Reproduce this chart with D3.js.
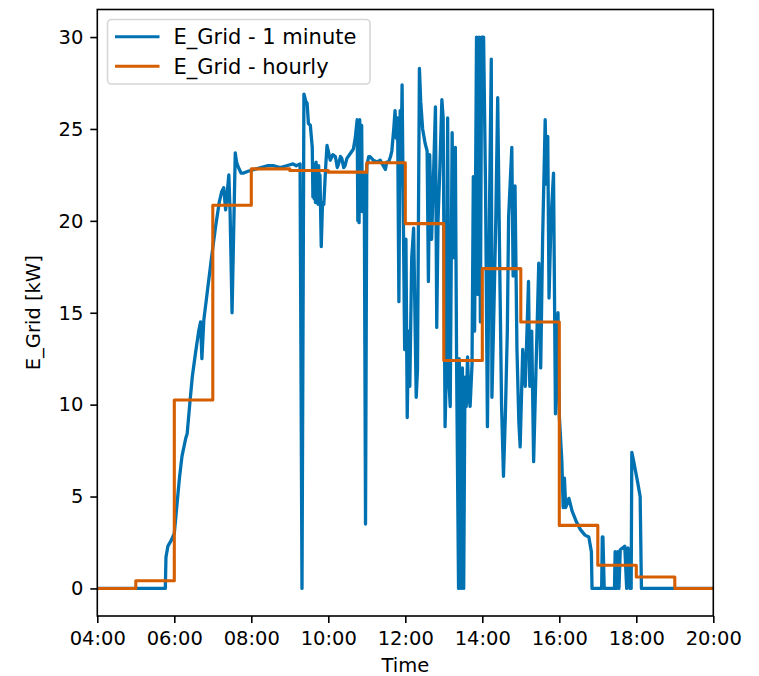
<!DOCTYPE html>
<html><head><meta charset="utf-8">
<script src="https://cdn.jsdelivr.net/npm/d3@7/dist/d3.min.js"></script>
<style>body{margin:0;background:#fff}svg{display:block}</style>
</head><body>
<svg id="chart" width="759" height="676"></svg>
<script>
const seriesNames = ["E_Grid - 1 minute", "E_Grid - hourly"];
const seriesColors = ["#0072B2", "#D55E00"];

const minuteTimes = [
"04:00","05:46","05:47","05:50","05:55","06:00","06:04","06:08","06:12","06:18","06:20","06:24","06:28","06:33","06:38","06:41","06:43","06:46","06:52","06:58",
"07:04","07:10","07:14","07:17","07:20","07:25","07:27","07:30","07:35","07:37","07:40","07:44","07:48","07:55","08:05","08:15","08:25","08:35","08:45","08:55",
"09:05","09:10","09:16","09:19","09:22","09:25","09:27","09:29","09:32","09:35","09:36","09:37","09:38","09:39","09:40","09:41","09:42","09:43","09:44","09:45","09:46","09:47",
"09:49","09:51","09:53","09:56","09:58","10:00","10:03","10:07","10:11","10:14","10:16","10:19","10:21","10:24","10:26","10:29","10:33","10:37","10:39","10:42",
"10:45","10:46","10:47","10:48","10:49","10:50","10:51","10:52","10:53","10:54","10:56","10:58","11:00","11:03","11:05","11:10","11:16","11:21","11:24","11:29","11:31","11:34",
"11:37","11:39","11:42","11:44","11:46","11:48","11:50","11:52","11:53","11:55","11:57","11:59","12:01","12:03","12:05","12:07","12:10","12:13","12:15","12:17",
"12:19","12:22","12:24","12:27","12:31","12:34","12:36","12:38","12:41","12:44","12:47","12:49","12:51","12:54","12:57","12:59","13:02","13:04","13:06","13:08",
"13:10","13:13","13:15","13:18","13:20","13:23","13:24","13:26","13:27","13:29","13:31","13:33","13:35","13:37","13:39","13:41","13:44","13:46","13:48","13:51",
"13:53","13:55","13:57","13:59","14:02","14:05","14:08","14:11","14:14","14:15","14:18","14:21","14:24","14:27","14:30","14:33","14:36","14:39","14:41","14:46",
"14:48","14:51","14:54","14:57","14:59","15:03","15:07","15:12","15:14","15:17","15:20","15:23","15:28","15:31","15:34","15:38","15:40","15:42","15:44","15:47",
"15:51","15:54","15:58","16:00","16:04","16:06","16:08","16:10","16:15","16:20","16:27","16:33","16:40","16:46","16:50","16:51","17:06","17:07","17:08","17:10",
"17:26","17:27","17:29","17:31","17:33","17:35","17:42","17:45","17:47","17:50","17:52","17:53","17:56","18:02","18:06","18:08","20:00"
];
const minuteValues = [
0,0,1.7,2.3,2.6,3.0,4.5,6.0,7.2,8.2,8.4,10.0,11.5,12.8,14.0,14.5,12.5,14.6,16.3,18.0,
19.6,21.0,21.6,21.8,20.6,22.5,20.4,15.0,23.7,23.2,22.9,22.6,22.6,22.7,22.8,22.9,23.0,23.0,22.9,23.0,
23.1,23.0,23.1,0,26.9,26.5,26.4,25.3,25.2,24.0,21.3,22.9,21.2,23.1,21.0,23.2,21.2,22.8,20.9,23.0,21.3,22.5,
18.6,21.0,20.9,23.0,24.1,23.8,23.3,23.6,23.5,22.9,23.1,23.5,23.4,22.9,23.0,23.4,23.6,23.8,23.9,24.5,
25.5,20.0,25.4,19.9,25.5,21.5,24.8,25.2,20.5,21.0,22.5,3.5,23.0,23.5,23.5,23.3,23.2,23.3,23.1,22.8,23.2,23.2,
23.5,23.8,25.0,26.0,24.5,25.6,15.6,26.0,22.0,27.4,20.0,13.0,19.0,9.3,14.0,11.0,18.0,19.6,15.0,10.4,
11.9,28.3,26.5,25.0,24.2,23.8,16.7,23.6,19.0,22.5,26.2,14.2,20.0,23.0,26.6,25.6,8.8,12.0,25.6,11.3,
9.9,24.8,18.0,24.0,12.0,0.0,12.5,10.5,0.0,12.0,0.0,11.5,9.9,12.6,10.5,9.9,12.2,22.4,14.0,30.0,
16.0,30.0,14.5,30.0,30.0,22.0,8.8,20.0,28.8,10.4,15.0,20.0,26.7,18.0,10.0,6.1,9.5,14.0,20.2,24.0,
17.0,21.9,13.0,9.0,7.7,13.0,11.0,16.7,11.0,14.0,6.9,11.0,17.7,12.0,19.0,25.5,22.0,24.6,15.8,20.0,
22.6,9.5,15.0,9.4,6.9,4.4,6.0,4.4,4.9,4.2,3.6,3.2,2.9,2.8,2.0,0.0,0.0,2.8,2.8,0.0,
0.0,2.0,0.0,2.0,0.0,2.1,2.3,0.0,2.2,0.0,0.0,7.4,6.9,5.8,5.0,0.0,0.0
];

const hourlyTimes = ["04:00","05:00","06:00","07:00","08:00","09:00","10:00","11:00","12:00","13:00","14:00","15:00","16:00","17:00","18:00","19:00","20:00"];
const hourlyValues = [0, 0.42, 10.25, 20.85, 22.83, 22.74, 22.65, 23.16, 19.85, 12.4, 17.4, 14.5, 3.43, 1.26, 0.62, 0, 0];

const xTickLabels = ["04:00","06:00","08:00","10:00","12:00","14:00","16:00","18:00","20:00"];
const yTickValues = [0, 5, 10, 15, 20, 25, 30];
const yDomain = [-1.5, 31.5];
const xLabel = "Time";
const yLabel = "E_Grid [kW]";

const parse = d3.timeParse("%H:%M");
const plot = {left: 97.3, right: 713.3, top: 9.5, bottom: 616};
const FONT = "DejaVu Sans, sans-serif";
const FS = 19.5;
const LFS = 21;

const svg = d3.select("#chart");
const x = d3.scaleTime().domain([parse("04:00"), parse("20:00")]).range([plot.left, plot.right]);
const y = d3.scaleLinear().domain(yDomain).range([plot.bottom, plot.top]);

svg.append("defs").append("clipPath").attr("id", "clip")
  .append("rect").attr("x", plot.left).attr("y", plot.top)
  .attr("width", plot.right - plot.left).attr("height", plot.bottom - plot.top);

const n = Math.min(minuteTimes.length, minuteValues.length);
const minuteData = minuteTimes.slice(0, n).map((t, i) => ({t: parse(t), v: minuteValues[i]}));
const hourlyData = hourlyTimes.map((t, i) => ({t: parse(t), v: hourlyValues[i]}));

const lineGen = d3.line().x(d => x(d.t)).y(d => y(d.v));
const stepGen = d3.line().x(d => x(d.t)).y(d => y(d.v)).curve(d3.curveStepAfter);

const g = svg.append("g").attr("clip-path", "url(#clip)");
g.append("path").datum(minuteData).attr("d", lineGen)
  .attr("fill", "none").attr("stroke", seriesColors[0]).attr("stroke-width", 3.3)
  .attr("stroke-linejoin", "round").attr("stroke-linecap", "butt");
g.append("path").datum(hourlyData).attr("d", stepGen)
  .attr("fill", "none").attr("stroke", seriesColors[1]).attr("stroke-width", 3.1)
  .attr("stroke-linejoin", "round");

// axes
const xAxis = d3.axisBottom(x)
  .tickValues(xTickLabels.map(parse))
  .tickFormat(d3.timeFormat("%H:%M"))
  .tickSize(7).tickSizeOuter(0).tickPadding(8);
const yAxis = d3.axisLeft(y).tickValues(yTickValues).tickFormat(d3.format("d"))
  .tickSize(7).tickSizeOuter(0).tickPadding(7);

const gx = svg.append("g").attr("transform", `translate(0,${plot.bottom})`).call(xAxis);
const gy = svg.append("g").attr("transform", `translate(${plot.left},0)`).call(yAxis);
[gx, gy].forEach(a => {
  a.select(".domain").remove();
  a.selectAll(".tick line").attr("stroke", "#000").attr("stroke-width", 1.6);
  a.selectAll(".tick text").attr("fill", "#000").style("font-family", FONT).style("font-size", FS + "px");
});

// spines
svg.append("rect").attr("x", plot.left).attr("y", plot.top)
  .attr("width", plot.right - plot.left).attr("height", plot.bottom - plot.top)
  .attr("fill", "none").attr("stroke", "#000").attr("stroke-width", 1.6);

// axis labels
svg.append("text").attr("x", (plot.left + plot.right) / 2).attr("y", 672)
  .attr("text-anchor", "middle").style("font-family", FONT).style("font-size", FS + "px")
  .attr("fill", "#000").text(xLabel);
svg.append("text").attr("transform", `translate(40,${(plot.top + plot.bottom) / 2}) rotate(-90)`)
  .attr("text-anchor", "middle").style("font-family", FONT).style("font-size", FS + "px")
  .attr("fill", "#000").text(yLabel);

// legend
const lg = svg.append("g");
lg.append("rect").attr("x", 107.5).attr("y", 19.5).attr("width", 262.5).attr("height", 64.5)
  .attr("rx", 4).attr("fill", "#fff").attr("fill-opacity", 0.8)
  .attr("stroke", "#d6d6d6").attr("stroke-width", 1.6);
seriesNames.forEach((name, i) => {
  const cy = 36.8 + i * 29.4;
  lg.append("line").attr("x1", 115).attr("x2", 159.5).attr("y1", cy).attr("y2", cy)
    .attr("stroke", seriesColors[i]).attr("stroke-width", 3);
  lg.append("text").attr("x", 173.5).attr("y", cy + 7.6)
    .style("font-family", FONT).style("font-size", LFS + "px").attr("fill", "#000").text(name);
});
</script>
</body></html>
